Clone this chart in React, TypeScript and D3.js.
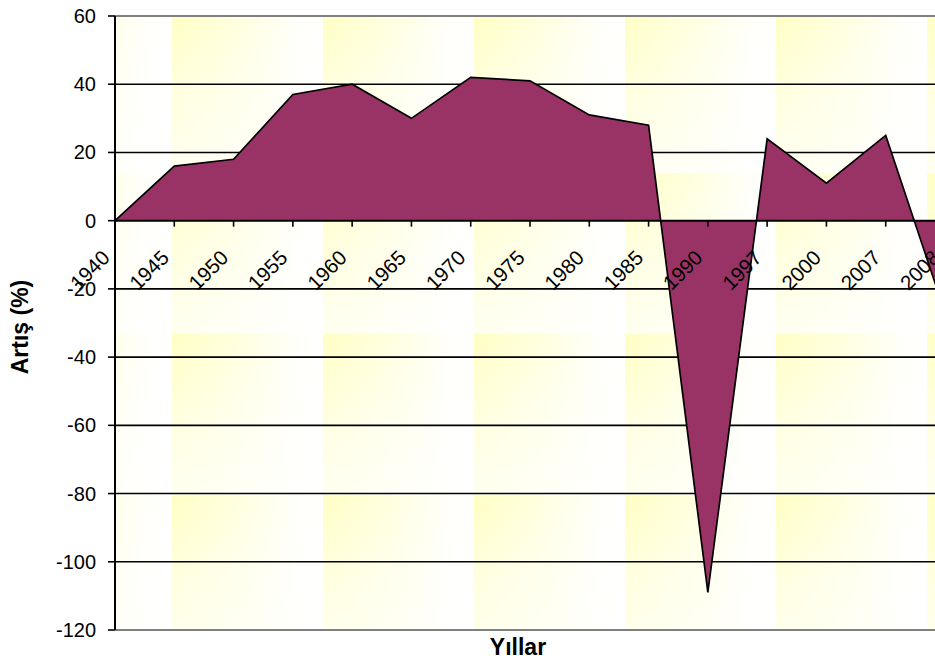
import React, { useEffect, useRef } from "react";
import * as d3 from "d3";

const years = ["1940", "1945", "1950", "1955", "1960", "1965", "1970", "1975", "1980", "1985", "1990", "1997", "2000", "2007", "2008"];
const growth = [0, 16, 18, 37, 40, 30, 42, 41, 31, 28, -109, 24, 11, 25, -27];
const yTicks = [60, 40, 20, 0, -20, -40, -60, -80, -100, -120];

const W = 935;
const H = 664;

export default function App() {
  const ref = useRef<SVGSVGElement>(null);

  useEffect(() => {
    const svg = d3.select(ref.current);
    svg.selectAll("*").remove();

    const left = 115, right = 945, top = 16, bottom = 630;
    const x = d3.scalePoint<string>().domain(years).range([left, right]);
    const y = d3.scaleLinear().domain([-120, 60]).range([bottom, top]);
    const font = "'Liberation Sans', Arial, sans-serif";

    // background texture (yellow fading tiles)
    const defs = svg.append("defs");
    const hg = defs.append("linearGradient").attr("id", "hg").attr("x1", 0).attr("x2", 1).attr("y1", 0).attr("y2", 0);
    hg.append("stop").attr("offset", 0).attr("stop-color", "#ffffc4");
    hg.append("stop").attr("offset", 0.5).attr("stop-color", "#ffffe2");
    hg.append("stop").attr("offset", 0.82).attr("stop-color", "#fffffa");
    hg.append("stop").attr("offset", 1).attr("stop-color", "#ffffff");
    const vg = defs.append("linearGradient").attr("id", "vg").attr("x1", 0).attr("x2", 0).attr("y1", 0).attr("y2", 1);
    vg.append("stop").attr("offset", 0).attr("stop-color", "#fff").attr("stop-opacity", 0);
    vg.append("stop").attr("offset", 0.5).attr("stop-color", "#fff").attr("stop-opacity", 0.45);
    vg.append("stop").attr("offset", 1).attr("stop-color", "#fff").attr("stop-opacity", 0.75);
    const pat = defs.append("pattern").attr("id", "tex").attr("patternUnits", "userSpaceOnUse")
      .attr("x", 21).attr("y", 12).attr("width", 151).attr("height", 161);
    pat.append("rect").attr("width", 151).attr("height", 161).attr("fill", "url(#hg)");
    pat.append("rect").attr("width", 151).attr("height", 161).attr("fill", "url(#vg)");

    svg.append("rect").attr("x", left).attr("y", top).attr("width", right - left).attr("height", bottom - top)
      .attr("fill", "#fffff6");
    svg.append("rect").attr("x", left).attr("y", top).attr("width", right - left).attr("height", bottom - top)
      .attr("fill", "url(#tex)");

    // gridlines
    svg.append("g").selectAll("line").data(yTicks.filter(d => d !== 0 && d !== 60 && d !== -120)).join("line")
      .attr("x1", left).attr("x2", right).attr("y1", d => y(d)).attr("y2", d => y(d))
      .attr("stroke", "#000").attr("stroke-width", 1.6);
    [60, -120].forEach(v => {
      svg.append("line").attr("x1", left).attr("x2", right).attr("y1", y(v)).attr("y2", y(v))
        .attr("stroke", "#808080").attr("stroke-width", 2);
    });

    // area
    const area = d3.area<number>().x((_, i) => x(years[i])!).y0(y(0)).y1(d => y(d));
    const line = d3.line<number>().x((_, i) => x(years[i])!).y(d => y(d));
    svg.append("path").datum(growth).attr("d", area).attr("fill", "#993366");
    svg.append("path").datum(growth).attr("d", line).attr("fill", "none")
      .attr("stroke", "#000").attr("stroke-width", 1.7).attr("stroke-linejoin", "miter");

    // y axis
    svg.append("line").attr("x1", left).attr("x2", left).attr("y1", top).attr("y2", bottom)
      .attr("stroke", "#000").attr("stroke-width", 2);
    svg.append("g").selectAll("line").data(yTicks).join("line")
      .attr("x1", left - 7).attr("x2", left).attr("y1", d => y(d)).attr("y2", d => y(d))
      .attr("stroke", "#000").attr("stroke-width", 1.6);
    svg.append("g").selectAll("text").data(yTicks).join("text")
      .attr("x", 96).attr("y", d => y(d) + 7).attr("text-anchor", "end")
      .attr("font-family", font).attr("font-size", 20).attr("fill", "#000")
      .text(d => String(d));

    // x axis at zero
    svg.append("line").attr("x1", left).attr("x2", right).attr("y1", y(0)).attr("y2", y(0))
      .attr("stroke", "#000").attr("stroke-width", 2);
    svg.append("g").selectAll("line").data(years.slice(1)).join("line")
      .attr("x1", d => x(d)!).attr("x2", d => x(d)!).attr("y1", y(0)).attr("y2", y(0) + 6)
      .attr("stroke", "#000").attr("stroke-width", 1.6);
    svg.append("g").selectAll("text").data(years).join("text")
      .attr("transform", d => `translate(${x(d)! - 4}, 259) rotate(-45)`)
      .attr("text-anchor", "end")
      .attr("font-family", font).attr("font-size", 20.5).attr("fill", "#000")
      .text(d => d);

    // titles
    svg.append("text").attr("transform", "translate(28, 327) rotate(-90)")
      .attr("text-anchor", "middle").attr("font-family", font).attr("font-size", 23)
      .attr("font-weight", "bold").text("Artış (%)");
    svg.append("text").attr("x", 518).attr("y", 655)
      .attr("text-anchor", "middle").attr("font-family", font).attr("font-size", 23)
      .attr("font-weight", "bold").text("Yıllar");
  }, []);

  return (
    <svg ref={ref} width={W} height={H} style={{ position: "absolute", left: 0, top: 0, background: "#fff" }} />
  );
}
